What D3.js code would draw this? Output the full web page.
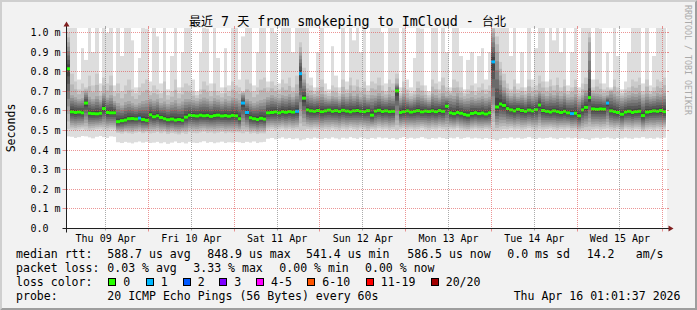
<!DOCTYPE html>
<html><head><meta charset="utf-8">
<script src="https://cdn.jsdelivr.net/npm/d3@7/dist/d3.min.js"></script>
<style>
html,body{margin:0;padding:0;background:#f2f2f2;}
svg{display:block;}
text{font-family:"DejaVu Sans Mono","Noto Sans CJK SC",monospace;fill:#000;}
</style></head>
<body><svg id="chart" width="697" height="310"></svg>
<script>
// ---------------- data ----------------
const title = "最近 7 天 from smokeping to ImCloud - 台北";
const yAxisTitle = "Seconds";
const watermark = "RRDTOOL / TOBI OETIKER";
const dayLabels = ["Thu 09 Apr","Fri 10 Apr","Sat 11 Apr","Sun 12 Apr","Mon 13 Apr","Tue 14 Apr","Wed 15 Apr"];
const yTickValues = [0,0.1,0.2,0.3,0.4,0.5,0.6,0.7,0.8,0.9,1.0];   // ms
const yTickLabels = ["0.0","0.1 m","0.2 m","0.3 m","0.4 m","0.5 m","0.6 m","0.7 m","0.8 m","0.9 m","1.0 m"];

// hourly columns starting Thu 09 Apr 01:00, values in microseconds
const medianUs = [
815,595,592,594,590,640,588,586,585,588,612,592,590,590,545,550,553,560,561,559,563,556,552,580,
570,575,566,560,555,558,553,556,552,568,578,576,574,578,575,577,572,576,578,574,576,573,577,575,
560,640,592,565,560,556,562,558,590,592,595,590,596,593,597,594,598,790,665,605,600,598,602,596,
600,604,598,601,597,603,599,595,600,602,598,596,601,578,599,603,597,600,596,598,702,592,596,600,
594,598,601,595,599,597,600,596,602,598,624,590,586,592,588,582,578,587,591,586,589,584,590,850,
620,635,628,612,605,600,608,602,598,604,600,606,630,602,598,594,600,596,592,598,590,586,588,575,
605,618,668,610,608,610,609,640,600,596,592,583,594,598,592,596,598,576,594,597,600,598,602,596];
const lossPings = [
0,0,0,0,0,0,0,0,0,0,0,0,0,0,0,0,0,0,0,0,1,0,0,0,
0,0,0,0,0,0,0,0,0,0,0,0,0,0,0,0,0,0,0,0,0,0,0,0,
0,1,1,0,0,0,0,0,0,0,0,0,0,0,0,0,1,1,0,0,0,0,0,0,
0,0,0,0,0,0,0,0,0,0,0,0,0,0,0,0,0,0,0,0,0,0,0,0,
0,0,0,0,0,0,0,0,0,0,0,0,0,0,0,0,0,0,0,0,0,0,0,1,
0,0,0,0,0,0,0,0,0,0,0,0,0,0,0,0,0,0,0,0,0,1,0,0,
0,0,0,0,0,0,0,1,0,0,0,0,0,0,0,0,0,0,0,0,0,0,0,0];
const lowestUs = [   // ping 1 of 20
470,468,462,466,472,470,465,460,468,472,466,462,470,468,440,436,442,438,434,440,444,438,442,436,
438,442,435,440,432,438,444,436,440,434,442,438,436,440,445,437,441,435,439,443,436,440,438,442,
440,436,442,438,444,436,440,442,458,462,455,460,465,458,462,456,460,450,455,462,458,464,460,456,
462,458,465,460,455,463,459,466,461,457,464,460,456,462,458,465,460,463,457,461,455,462,466,459,
463,458,461,466,460,456,462,459,465,461,457,463,460,466,458,462,465,459,463,460,456,462,458,455,
450,458,462,460,465,459,463,458,461,466,460,457,463,459,462,465,460,456,462,459,464,460,463,458,
461,457,452,460,463,458,462,465,460,456,462,459,464,460,457,463,461,466,459,462,458,464,460,463];
const secondUs = [   // ping 2 of 20
508,505,502,506,510,504,500,503,507,509,504,501,506,505,488,484,490,486,483,489,492,486,490,485,
488,492,486,490,482,487,484,480,488,483,491,488,486,490,494,487,490,485,489,493,486,490,488,491,
490,486,492,484,488,482,486,485,505,508,502,507,510,504,508,503,506,500,502,508,505,510,507,503,
508,505,511,506,502,509,505,512,507,503,510,506,498,508,504,511,506,509,503,507,502,508,512,505,
509,504,507,512,506,502,508,505,511,507,503,509,506,512,504,500,498,505,509,504,502,508,504,500,
498,504,508,506,511,505,509,504,507,512,506,503,509,505,508,511,506,502,508,505,510,502,504,496,
498,503,500,506,509,504,508,511,506,502,508,498,510,506,503,509,507,496,505,508,504,510,506,509];
const p17Us = [      // ping 17 of 20
950,680,670,660,665,700,672,660,675,655,690,668,680,650,640,628,645,650,640,632,640,650,655,660,
652,660,640,648,635,645,655,638,648,660,660,655,650,660,668,662,650,665,658,648,660,652,668,664,
655,690,660,650,640,648,655,660,670,680,672,665,680,675,685,670,690,900,760,690,680,672,676,685,
668,662,675,670,660,685,672,690,676,688,670,684,665,680,678,690,676,668,684,676,740,665,688,668,
660,668,684,678,665,655,688,680,668,690,675,680,676,690,668,660,664,670,662,668,675,665,672,1000,
900,780,720,690,676,688,672,680,668,690,676,684,700,688,676,690,680,694,676,690,668,672,685,660,
680,705,950,690,688,684,675,680,700,688,676,665,672,680,690,686,694,668,688,672,676,690,684,692];
const p19Us = [      // ping 19 of 20
1000,790,750,710,740,720,780,730,790,700,770,740,780,700,740,700,730,760,710,690,720,740,760,700,
730,710,690,750,680,700,760,690,720,740,730,700,680,710,750,730,700,740,700,690,720,700,750,730,
720,700,760,740,700,720,760,770,720,750,730,710,760,740,770,720,780,950,820,740,730,700,720,760,
700,690,730,720,690,760,710,770,730,760,720,750,700,750,740,770,730,700,760,740,790,690,750,710,
690,700,750,730,700,680,760,740,710,770,720,700,760,750,720,690,710,730,700,720,740,710,730,1040,
980,850,790,740,710,760,710,720,700,760,720,730,780,750,720,760,730,770,720,760,700,720,760,690,
740,770,1000,720,760,740,710,720,710,760,720,690,710,720,760,750,770,700,760,700,720,760,750,770];
const highestUs = [  // ping 20 of 20
1050,1050,1040,760,920,860,1050,900,1050,740,1050,1000,1050,730,1050,880,1030,1050,960,720,870,1050,1020,750,
1050,980,740,1050,710,880,1050,720,900,1050,1040,760,700,900,1050,1020,740,1050,870,720,920,730,1050,1030,
760,980,1050,1040,730,900,1050,1050,750,1050,1000,740,1050,1040,1050,900,1050,1050,1050,1030,770,720,900,1050,
740,710,930,780,720,1050,750,1050,960,1050,900,1040,730,1050,1030,1050,1000,740,1050,1040,1050,720,1050,760,
720,870,1050,1020,730,700,1050,1030,750,1050,900,720,1050,1040,880,710,860,900,740,880,920,760,900,1050,
1050,1050,1050,1040,880,1050,740,900,720,1050,760,920,1050,1040,750,1050,960,1050,900,1050,730,900,1050,720,
1050,1050,1050,760,1050,1020,740,900,720,1050,880,710,750,900,1050,1040,1050,740,1050,730,880,1050,1040,1050];

const lossLabels = ["0","1","2","3","4-5","6-10","11-19","20/20"];
const lossColors = ["#26ff00","#00b8ff","#0059ff","#7e00ff","#ff00ff","#ff5500","#ff0000","#a10000"];
const rttStats  = ["median rtt:","588.7 us avg","848.9 us max","541.4 us min","586.5 us now","0.0 ms sd","14.2","am/s"];
const lossStats = ["packet loss:","0.03 % avg","3.33 % max","0.00 % min","0.00 % now"];
const probeInfo = ["probe:","20 ICMP Echo Pings (56 Bytes) every 60s"];
const stamp = "Thu Apr 16 01:01:37 2026";

// ---------------- drawing ----------------
const W = 697, H = 310;
const svg = d3.select("#chart");
const tStart = new Date(2026,3,9,1,1,37), tEnd = new Date(2026,3,16,1,1,37);
const colStart = new Date(2026,3,9,1,0,0);
const HOUR = 3600e3;
const x = d3.scaleTime().domain([tStart,tEnd]).range([66.5,666.5]);
const y = d3.scaleLinear().domain([0,1.0204]).range([228.5,28.5]);
const yv = us => y(us/1000);
const snap = v => Math.round(v-0.5)+0.5;

// background + 3D frame
svg.append("rect").attr("width",W).attr("height",H).attr("fill","#f2f2f2");
svg.append("polygon").attr("points",[[0,0],[0,H],[2,H-2],[2,2],[W-2,2],[W,0]].join(" ")).attr("fill","#cfcfcf");
svg.append("polygon").attr("points",[[0,H],[W,H],[W,0],[W-2,2],[W-2,H-2],[2,H-2]].join(" ")).attr("fill","#9e9e9e");

// canvas
svg.append("rect").attr("x",67).attr("y",28).attr("width",600).attr("height",200).attr("fill","#fff");
svg.append("defs").append("clipPath").attr("id","plotclip")
  .append("rect").attr("x",67).attr("y",28).attr("width",600).attr("height",200.5);

const plot = svg.append("g").attr("clip-path","url(#plotclip)");
const shades = [221,202,183,164,145,126,107,88,69,50].map(v=>d3.rgb(v,v,v).formatHex());

function lossColor(n){
  if(n<=3) return lossColors[n];
  if(n<=5) return lossColors[4];
  if(n<=10) return lossColors[5];
  if(n<=19) return lossColors[6];
  return lossColors[7];
}

const cols = medianUs.map((med,i)=>{
  const ta = new Date(+colStart + i*HOUR), tb = new Date(+colStart + (i+1)*HOUR);
  const p = new Array(21);
  p[1]=lowestUs[i]; p[2]=secondUs[i];
  for(let k=3;k<=9;k++) p[k]=p[2]+(med-p[2])*(k-2)/8;
  p[10]=med; p[11]=med;
  for(let k=12;k<=16;k++) p[k]=med+(p17Us[i]-med)*(k-11)/6;
  p[17]=p17Us[i]; p[19]=p19Us[i]; p[18]=(p[17]+p[19])/2; p[20]=highestUs[i];
  return {x0:Math.round(x(ta)), x1:Math.round(x(tb)), p, med, loss:lossPings[i]};
});

cols.forEach(c=>{
  const g = plot.append("g");
  for(let k=1;k<=10;k++){
    const top = yv(c.p[21-k]), bot = yv(c.p[k]);
    g.append("rect").attr("x",c.x0).attr("width",c.x1-c.x0)
      .attr("y",top).attr("height",Math.max(0,bot-top)).attr("fill",shades[k-1]);
  }
});
plot.selectAll("rect.med").data(cols).enter().append("rect").attr("class","med")
  .attr("x",d=>d.x0).attr("width",d=>d.x1-d.x0)
  .attr("y",d=>yv(d.med)-1.5).attr("height",3)
  .attr("fill",d=>lossColor(d.loss));

// grid (drawn on top, as rrdtool does)
const GRID = "rgba(143,143,143,0.75)", MGRID = "rgba(222,79,79,0.6)";
const grid = svg.append("g").attr("stroke-width",1).attr("fill","none");
yTickValues.slice(1).forEach(v=>{
  const yy = snap(y(v));
  grid.append("line").attr("x1",67).attr("x2",667).attr("y1",yy).attr("y2",yy)
    .attr("stroke",MGRID).attr("stroke-dasharray","1,1");
  grid.append("line").attr("x1",62.5).attr("x2",66.5).attr("y1",yy).attr("y2",yy).attr("stroke",MGRID);
  grid.append("line").attr("x1",667).attr("x2",669).attr("y1",yy).attr("y2",yy).attr("stroke",MGRID);
});
d3.timeHour.every(12).range(tStart,tEnd).forEach(t=>{
  const major = t.getHours()===0;
  const xx = snap(x(t)), col = major?MGRID:GRID;
  grid.append("line").attr("x1",xx).attr("x2",xx).attr("y1",28).attr("y2",228)
    .attr("stroke",col).attr("stroke-dasharray","1,1");
  grid.append("line").attr("x1",xx).attr("x2",xx).attr("y1",228.5).attr("y2",major?231.5:230.5).attr("stroke",col);
  grid.append("line").attr("x1",xx).attr("x2",xx).attr("y1",26).attr("y2",28).attr("stroke",col);
});

// axes + arrows
svg.append("line").attr("x1",62.5).attr("x2",670.5).attr("y1",228.5).attr("y2",228.5).attr("stroke","#1f1f1f");
svg.append("line").attr("x1",66.5).attr("x2",66.5).attr("y1",232.5).attr("y2",24).attr("stroke","#1f1f1f");
svg.append("polygon").attr("points","668.5,225.5 668.5,231.5 673.5,228.5").attr("fill","#801f1f");
svg.append("polygon").attr("points","63.5,26.5 69.5,26.5 66.5,21.5").attr("fill","#801f1f");

// y tick labels
svg.append("g").selectAll("text").data(yTickValues).enter().append("text")
  .attr("x",30.4).attr("y",v=>snap(y(v))+3.6).attr("font-size","10px")
  .text((v,i)=>yTickLabels[i]);

// x labels (centred on noon)
svg.append("g").selectAll("text").data(dayLabels).enter().append("text")
  .attr("x",(d,i)=>x(new Date(2026,3,9+i,12,0,0))).attr("y",241.5)
  .attr("text-anchor","middle").attr("font-size","10px").text(d=>d);

// title with CJK runs
const tt = svg.append("text").attr("x",347.5).attr("y",25.5).attr("text-anchor","middle").attr("font-size","13.33px");
title.split(/([\u3400-\u9fff]+)/).filter(s=>s.length).forEach(s=>{
  const cjk = /[\u3400-\u9fff]/.test(s);
  tt.append("tspan").attr("font-size",cjk?"12px":"13.33px")
    .attr("font-family",cjk?"'Noto Sans CJK SC'":"'DejaVu Sans Mono'")
    .style("white-space","pre").text(s);
});
tt.attr("xml:space","preserve");

// y axis title
svg.append("text").attr("transform","translate(14.5,128) rotate(-90)")
  .attr("text-anchor","middle").attr("font-size","11.55px").text(yAxisTitle);

// watermark
svg.append("text").attr("transform","translate(691,5) rotate(90)")
  .attr("x",0).attr("y",6.2).attr("font-size","8.3px").style("fill","#aaaaaa").text(watermark);

// legend
const LF = "11.55px";
const leg = svg.append("g").attr("font-size",LF);
const rttX = [16,107.3,207.3,306,407.3,507.3,586.7,635.7];
rttStats.forEach((s,i)=>leg.append("text").attr("x",rttX[i]).attr("y",258.3).attr("font-size",LF).text(s));
const lossX = [16,107.3,193.3,279.3,365];
lossStats.forEach((s,i)=>leg.append("text").attr("x",lossX[i]).attr("y",272).attr("font-size",LF).text(s));
leg.append("text").attr("x",16).attr("y",286).attr("font-size",LF).text("loss color:");
const boxX = [108.3,145.7,182.7,219.3,256,307.3,365.7,430.7];
lossLabels.forEach((s,i)=>{
  leg.append("rect").attr("x",Math.round(boxX[i])+0.5).attr("y",278.5).attr("width",7).attr("height",7)
    .attr("fill",lossColors[i]).attr("stroke","#000").attr("stroke-width",1);
  leg.append("text").attr("x",boxX[i]+15).attr("y",286).attr("font-size",LF).text(s);
});
leg.append("text").attr("x",16).attr("y",299.7).attr("font-size",LF).text(probeInfo[0]);
leg.append("text").attr("x",107.3).attr("y",299.7).attr("font-size",LF).text(probeInfo[1]);
leg.append("text").attr("x",680.5).attr("y",299.7).attr("text-anchor","end").attr("font-size",LF).text(stamp);
</script>
</body></html>
